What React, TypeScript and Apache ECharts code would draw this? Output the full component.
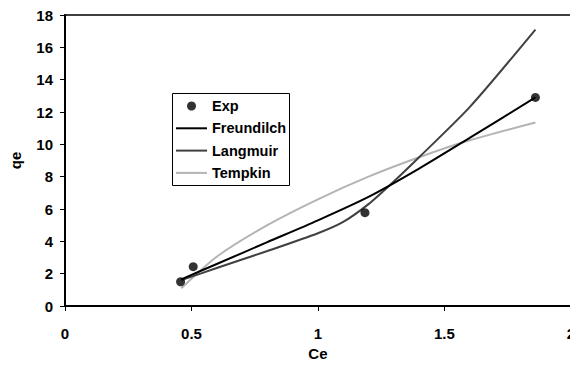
import React, { useEffect, useRef } from "react";
import * as echarts from "echarts";

// Experimental isotherm points (Ce, qe)
const expCe = [0.457, 0.507, 1.186, 1.86];
const expQe = [1.5, 2.43, 5.77, 12.9];

// Fitted model curves, sampled along Ce
const freundlichCe = [0.46, 0.6, 0.8, 1.0, 1.2, 1.4, 1.6, 1.86];
const freundlichQe = [1.65, 2.6, 3.95, 5.3, 6.75, 8.5, 10.4, 12.9];

const langmuirCe = [0.46, 0.6, 0.8, 1.0, 1.1, 1.2, 1.3, 1.4, 1.6, 1.86];
const langmuirQe = [1.6, 2.35, 3.4, 4.5, 5.2, 6.3, 7.7, 9.2, 12.3, 17.1];

const tempkinCe = [0.46, 0.6, 0.8, 1.0, 1.2, 1.4, 1.6, 1.86];
const tempkinQe = [1.1, 3.05, 5.0, 6.6, 8.0, 9.2, 10.25, 11.35];

const xTicks = { min: 0, max: 2, interval: 0.5 };
const yTicks = { min: 0, max: 18, interval: 2 };

const pairs = (xs: number[], ys: number[]) => xs.map((x, i) => [x, ys[i]]);

const FONT = "'Liberation Sans', Arial, sans-serif";
const linePath = "path://M0,0 L31,0 L31,2 L0,2 Z";

export default function App() {
  const ref = useRef<HTMLDivElement>(null);

  useEffect(() => {
    if (!ref.current) return;
    const chart = echarts.init(ref.current, undefined, { renderer: "svg" });
    const labelStyle = {
      color: "#000",
      fontFamily: FONT,
      fontWeight: "bold" as const,
      fontSize: 15,
    };
    const curve = (name: string, xs: number[], ys: number[], color: string, z: number) => ({
      name,
      type: "line",
      data: pairs(xs, ys),
      smooth: 0.25,
      symbol: "none",
      color,
      lineStyle: { color, width: 2 },
      z,
    });
    chart.setOption({
      animation: false,
      backgroundColor: "#fff",
      grid: {
        left: 64,
        top: 15,
        right: 6.5,
        bottom: 66,
        show: true,
        borderColor: "#000",
        borderWidth: 1.5,
        backgroundColor: "transparent",
      },
      // legend frame
      graphic: [
        {
          type: "rect",
          shape: { x: 172.5, y: 93.5, width: 117, height: 92 },
          style: { fill: "#fff", stroke: "#000", lineWidth: 1 },
          z: 10,
          silent: true,
        },
      ],
      legend: {
        orient: "vertical",
        left: 172,
        top: 93,
        padding: [5, 4, 5, 4],
        itemWidth: 31,
        itemHeight: 9,
        itemGap: 6.3,
        z: 20,
        textStyle: { ...labelStyle, fontSize: 14.5, lineHeight: 16 },
        data: [
          { name: "Exp", icon: "circle" },
          { name: "Freundilch", icon: linePath },
          { name: "Langmuir", icon: linePath },
          { name: "Tempkin", icon: linePath },
        ],
      },
      xAxis: {
        type: "value",
        ...xTicks,
        name: "Ce",
        nameLocation: "middle",
        nameGap: 34,
        nameTextStyle: labelStyle,
        axisLine: { show: true, onZero: false, lineStyle: { color: "#000", width: 2 } },
        axisTick: { show: true, length: 5, lineStyle: { color: "#000", width: 1 } },
        axisLabel: { ...labelStyle, margin: 20, showMaxLabel: true, showMinLabel: true },
        splitLine: { show: false },
      },
      yAxis: {
        type: "value",
        ...yTicks,
        name: "qe",
        nameLocation: "middle",
        nameGap: 42,
        nameRotate: 90,
        nameTextStyle: labelStyle,
        axisLine: { show: true, onZero: false, lineStyle: { color: "#000", width: 2 } },
        axisTick: { show: true, length: 5, lineStyle: { color: "#000", width: 1 } },
        axisLabel: { ...labelStyle, margin: 12 },
        splitLine: { show: false },
      },
      series: [
        curve("Freundilch", freundlichCe, freundlichQe, "#000000", 3),
        curve("Langmuir", langmuirCe, langmuirQe, "#404040", 2),
        curve("Tempkin", tempkinCe, tempkinQe, "#b4b4b4", 1),
        {
          name: "Exp",
          type: "scatter",
          data: pairs(expCe, expQe),
          symbol: "circle",
          symbolSize: 9,
          color: "#000",
          itemStyle: { color: "#000" },
          z: 5,
        },
      ],
    });
    return () => chart.dispose();
  }, []);

  return <div ref={ref} style={{ width: 578, height: 372, margin: -8 }} />;
}
